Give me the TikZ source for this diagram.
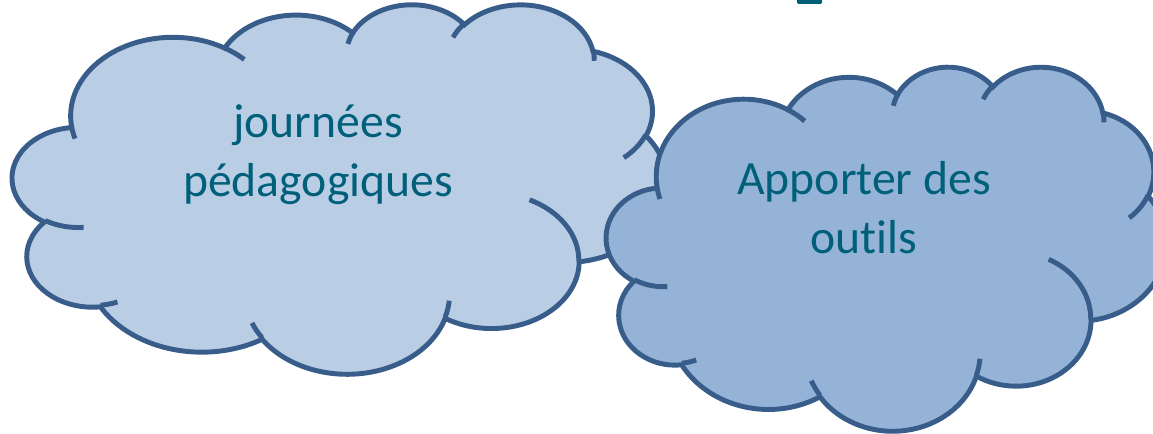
\documentclass[tikz,border=0pt]{standalone}
\usepackage{fontspec}
\setmainfont[Ligatures=NoCommon]{Carlito}
\definecolor{cloudline}{HTML}{385D8A}
\definecolor{cloudlight}{HTML}{B9CDE5}
\definecolor{clouddark}{HTML}{95B3D7}
\definecolor{textcol}{HTML}{00607A}
% arc of the PowerPoint cloud: visual angles converted to parametric angles
\newcommand\mkarc[5]{%
  \pgfmathsetmacro\tmpS{#4+mod(atan2(#2*sin(#4),#3*cos(#4))-(#4)+540,360)-180}%
  \pgfmathsetmacro\tmpE{#4+#5+mod(atan2(#2*sin(#4+#5),#3*cos(#4+#5))-(#4+#5)+540,360)-180}%
  \edef\tmpdo{\noexpand\tikzset{#1/.style={start angle=\tmpS, end angle=\tmpE, x radius=#2, y radius=#3}}}%
  \tmpdo}
\mkarc{arcOa}{6.753}{9.190}{-190.487483}{123.780533}
\mkarc{arcOb}{5.333}{7.267}{-144.102383}{89.945233}
\mkarc{arcOc}{4.365}{5.945}{-145.807917}{99.723017}
\mkarc{arcOd}{4.857}{6.595}{-130.986067}{117.241733}
\mkarc{arcOe}{5.333}{7.273}{-78.708883}{109.026917}
\mkarc{arcOf}{6.775}{9.220}{-46.26725}{130.269}
\mkarc{arcOg}{5.785}{7.867}{0.625017}{114.033333}
\mkarc{arcOh}{6.752}{9.215}{22.4516}{115.17255}
\mkarc{arcOi}{7.720}{10.543}{66.242633}{75.711017}
\mkarc{arcOj}{4.360}{5.918}{-274.942083}{146.735567}
\mkarc{arcOk}{4.345}{5.945}{-246.8285}{152.51885}
\mkarc{arcIa}{4.345}{5.945}{86.742}{26.4295}
\mkarc{arcIb}{4.360}{5.918}{73.610467}{11.447467}
\mkarc{arcIc}{6.752}{9.215}{137.62415}{14.0811}
\mkarc{arcId}{6.752}{9.215}{6.453267}{15.99835}
\mkarc{arcIe}{5.785}{7.867}{-70.29235}{70.917367}
\mkarc{arcIf}{5.333}{7.273}{30.318033}{27.7515}
\mkarc{arcIg}{4.857}{6.595}{-13.744333}{14.8589}
\mkarc{arcIh}{4.857}{6.595}{-149.18145}{18.195367}
\mkarc{arcIi}{4.365}{5.945}{-163.494267}{17.68635}
\mkarc{arcIj}{6.753}{9.190}{-66.70695}{12.31935}
\mkarc{arcIk}{6.753}{9.190}{157.65435}{11.858167}
\newcommand\cloudoutline{(3.900,14.370) arc[arcOa] arc[arcOb] arc[arcOc] arc[arcOd] arc[arcOe] arc[arcOf] arc[arcOg] arc[arcOh] arc[arcOi] arc[arcOj] arc[arcOk] -- cycle}
\newcommand\cloudinner{(4.693,26.177) arc[arcIa] (6.928,34.899) arc[arcIb] (16.478,39.090) arc[arcIc] (28.827,34.751) arc[arcId] (34.129,22.954) arc[arcIe] (41.798,15.354) arc[arcIf] (38.324,5.426) arc[arcIg] (29.078,3.952) arc[arcIh] (22.141,4.720) arc[arcIi] (14.000,5.192) arc[arcIj] (4.127,15.789) arc[arcIk]}
\tikzset{
  cloudedge/.style={draw=cloudline, line width=1.4pt},
  cloudtext/.style={text=textcol, align=center, font=\fontsize{13.57pt}{16.8pt}\selectfont, anchor=base, inner sep=0pt}
}
\begin{document}
\begin{tikzpicture}[x=0.1mm, y=-0.1mm]
\useasboundingbox (0,0) rectangle (1153,434);
% cut-off glyph of the title above
\fill[textcol, rounded corners=0.4pt] (797,-2) rectangle (822,4);
% left cloud
\begin{scope}[shift={(12.5,3.6)}, xscale=15.15, yscale=8.55]
  \path[fill=cloudlight, cloudedge] \cloudoutline;
  \path[cloudedge] \cloudinner;
\end{scope}
\node[cloudtext] (jp) at (318,197) {journées\\pédagogiques};
% right cloud
\begin{scope}[shift={(606.5,66)}, xscale=12.955, yscale=8.425]
  \path[fill=clouddark, cloudedge] \cloudoutline;
  \path[cloudedge] \cloudinner;
\end{scope}
\node[cloudtext] (ao) at (864,254) {Apporter des\\outils};
\end{tikzpicture}
\end{document}
